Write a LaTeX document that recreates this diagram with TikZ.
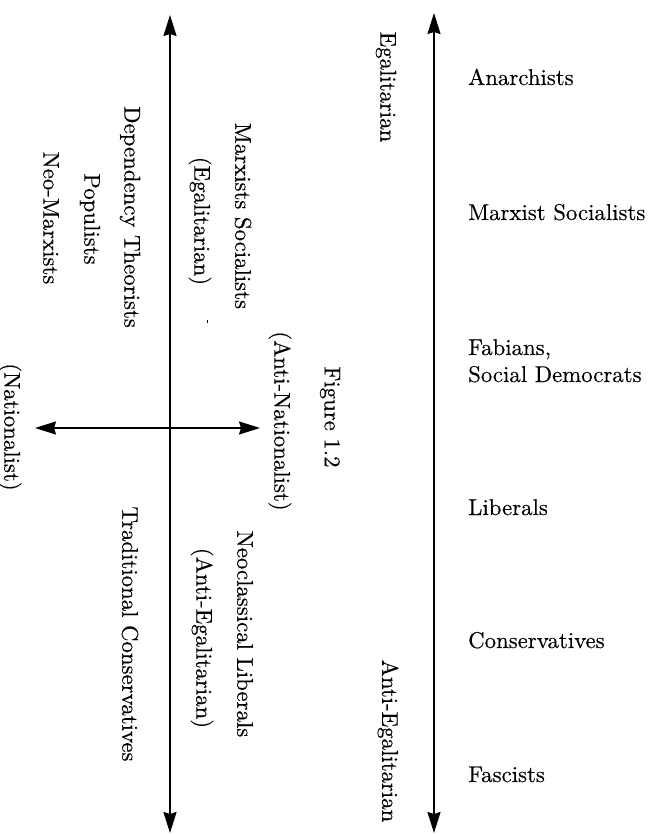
\documentclass[tikz,border=0pt]{standalone}
\usepackage{fontspec}
\setmainfont{lmroman10-regular.otf}[FakeBold=0.3]
\usetikzlibrary{arrows.meta}
\begin{document}
\begin{tikzpicture}[x=1pt,y=-1pt,
  lbl/.style={inner sep=0pt,font=\fontsize{22.8}{27}\selectfont},
  vlbl/.style={lbl,rotate=-90,anchor=center},
  hlbl/.style={lbl,anchor=base west},
  tip/.style={Stealth[length=21pt,width=13pt,inset=2pt]},
  axis/.style={line width=2pt,{Stealth[length=21pt,width=13pt,inset=2pt]}-{Stealth[length=21pt,width=13pt,inset=2pt]}}]
\useasboundingbox (0,0) rectangle (649,834);
% axes
\coordinate (ltop) at (170,15);
\coordinate (lbot) at (170,833);
\coordinate (rtop) at (434,13);
\coordinate (rbot) at (434,833);
\coordinate (hl) at (35,428);
\coordinate (hr) at (260,428);
\draw[axis] (ltop) -- (lbot);
\draw[axis] (rtop) -- (rbot);
\draw[axis] (hl) -- (hr);
% right column
\node[hlbl] (anar) at (468,85) {Anarchists};
\node[hlbl] (msoc) at (468,220) {Marxist Socialists};
\node[hlbl] (fab) at (468,355) {Fabians,};
\node[hlbl] (sdem) at (468,382) {Social Democrats};
\node[hlbl] (lib) at (468,515) {Liberals};
\node[hlbl] (cons) at (468,648) {Conservatives};
\node[hlbl] (fasc) at (468,782) {Fascists};
\node[vlbl] (egal) at (386,87) {Egalitarian};
\node[vlbl] (antiegal) at (388,741) {Anti-Egalitarian};
% left part
\node[vlbl] (fig) at (330,417) {Figure 1.2};
\node[vlbl] (antinat) at (280,421) {(Anti-Nationalist)};
\node[vlbl] (nat) at (10,427) {(Nationalist)};
\node[vlbl] (mxs) at (243,216) {Marxists Socialists};
\node[vlbl] (egal2) at (200,221) {(Egalitarian)};
\node[vlbl] (dep) at (130,217) {Dependency Theorists};
\node[vlbl] (pop) at (90,219) {Populists};
\node[vlbl] (neom) at (51,218) {Neo-Marxists};
\node[vlbl] (neocl) at (245,634) {Neoclassical Liberals};
\node[vlbl] (antiegal2) at (202,638) {(Anti-Egalitarian)};
\node[vlbl] (trad) at (130,634) {Traditional Conservatives};
\fill (206.5,320) rectangle (208,322.5);
\end{tikzpicture}
\end{document}
